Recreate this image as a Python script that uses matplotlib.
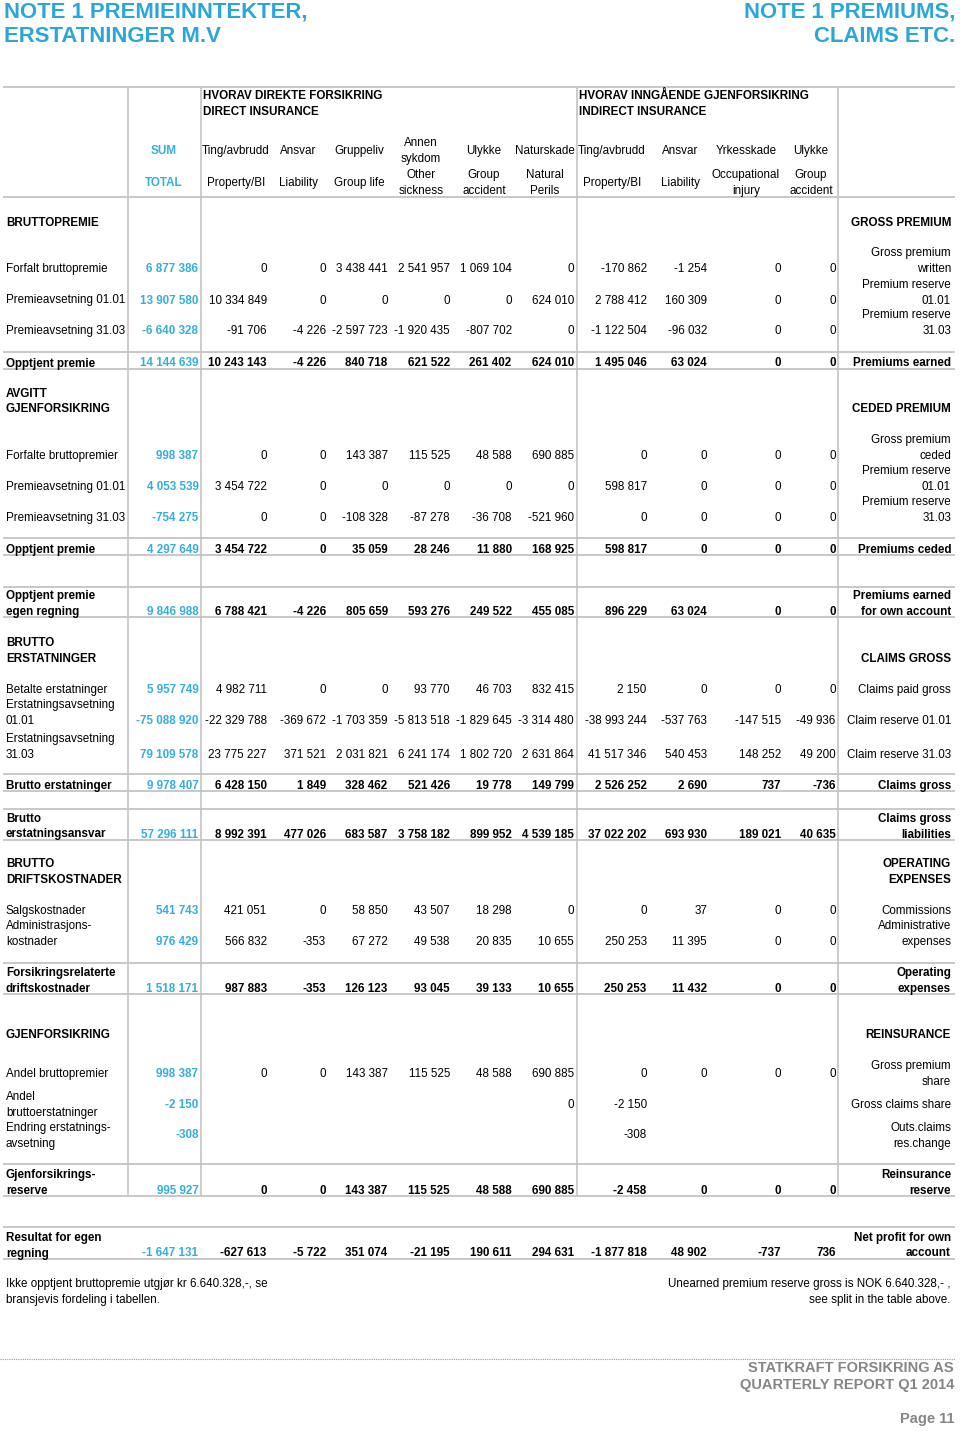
import matplotlib
matplotlib.use("Agg")
import matplotlib.pyplot as plt

plt.rcParams["font.family"] = ["Liberation Sans", "DejaVu Sans"]

# ---- data -------------------------------------------------------------
DIRECT_NO = ["Ting/avbrudd", "Ansvar", "Gruppeliv", "Annen\nsykdom", "Ulykke", "Naturskade"]
DIRECT_EN = ["Property/BI", "Liability", "Group life", "Other\nsickness", "Group\naccident", "Natural\nPerils"]
INDIRECT_NO = ["Ting/avbrudd", "Ansvar", "Yrkesskade", "Ulykke"]
INDIRECT_EN = ["Property/BI", "Liability", "Occupational\ninjury", "Group\naccident"]

SECTIONS_NO = ["BRUTTOPREMIE", "AVGITT\nGJENFORSIKRING", "BRUTTO\nERSTATNINGER",
               "BRUTTO\nDRIFTSKOSTNADER", "GJENFORSIKRING"]
SECTIONS_EN = ["GROSS PREMIUM", "CEDED PREMIUM", "CLAIMS GROSS",
               "OPERATING\nEXPENSES", "REINSURANCE"]

ROW_NO = [
    "Forfalt bruttopremie", "Premieavsetning 01.01", "Premieavsetning 31.03", "Opptjent premie",
    "Forfalte bruttopremier", "Premieavsetning 01.01", "Premieavsetning 31.03", "Opptjent premie",
    "Opptjent premie\negen regning",
    "Betalte erstatninger", "Erstatningsavsetning\n01.01", "Erstatningsavsetning\n31.03",
    "Brutto erstatninger", "Brutto\nerstatningsansvar",
    "Salgskostnader", "Administrasjons-\nkostnader", "Forsikringsrelaterte\ndriftskostnader",
    "Andel bruttopremier", "Andel\nbruttoerstatninger", "Endring erstatnings-\navsetning",
    "Gjenforsikrings-\nreserve", "Resultat for egen\nregning",
]
ROW_EN = [
    "Gross premium\nwritten", "Premium reserve\n01.01", "Premium reserve\n31.03", "Premiums earned",
    "Gross premium\nceded", "Premium reserve\n01.01", "Premium reserve\n31.03", "Premiums ceded",
    "Premiums earned\nfor own account",
    "Claims paid gross", "Claim reserve 01.01", "Claim reserve 31.03",
    "Claims gross", "Claims gross\nliabilities",
    "Commissions", "Administrative\nexpenses", "Operating\nexpenses",
    "Gross premium\nshare", "Gross claims share", "Outs.claims\nres.change",
    "Reinsurance\nreserve", "Net profit for own\naccount",
]
ROW_SUM = [6877386, 13907580, -6640328, 14144639,
           998387, 4053539, -754275, 4297649,
           9846988,
           5957749, -75088920, 79109578, 9978407, 57296111,
           541743, 976429, 1518171,
           998387, -2150, -308, 995927, -1647131]
N = None
ROW_VALUES = [
    [0, 0, 3438441, 2541957, 1069104, 0, -170862, -1254, 0, 0],
    [10334849, 0, 0, 0, 0, 624010, 2788412, 160309, 0, 0],
    [-91706, -4226, -2597723, -1920435, -807702, 0, -1122504, -96032, 0, 0],
    [10243143, -4226, 840718, 621522, 261402, 624010, 1495046, 63024, 0, 0],
    [0, 0, 143387, 115525, 48588, 690885, 0, 0, 0, 0],
    [3454722, 0, 0, 0, 0, 0, 598817, 0, 0, 0],
    [0, 0, -108328, -87278, -36708, -521960, 0, 0, 0, 0],
    [3454722, 0, 35059, 28246, 11880, 168925, 598817, 0, 0, 0],
    [6788421, -4226, 805659, 593276, 249522, 455085, 896229, 63024, 0, 0],
    [4982711, 0, 0, 93770, 46703, 832415, 2150, 0, 0, 0],
    [-22329788, -369672, -1703359, -5813518, -1829645, -3314480, -38993244, -537763, -147515, -49936],
    [23775227, 371521, 2031821, 6241174, 1802720, 2631864, 41517346, 540453, 148252, 49200],
    [6428150, 1849, 328462, 521426, 19778, 149799, 2526252, 2690, 737, -736],
    [8992391, 477026, 683587, 3758182, 899952, 4539185, 37022202, 693930, 189021, 40635],
    [421051, 0, 58850, 43507, 18298, 0, 0, 37, 0, 0],
    [566832, -353, 67272, 49538, 20835, 10655, 250253, 11395, 0, 0],
    [987883, -353, 126123, 93045, 39133, 10655, 250253, 11432, 0, 0],
    [0, 0, 143387, 115525, 48588, 690885, 0, 0, 0, 0],
    [N, N, N, N, N, 0, -2150, N, N, N],
    [N, N, N, N, N, N, -308, N, N, N],
    [0, 0, 143387, 115525, 48588, 690885, -2458, 0, 0, 0],
    [-627613, -5722, 351074, -21195, 190611, 294631, -1877818, 48902, -737, 736],
]
TOTAL_ROWS = [3, 7, 8, 12, 13, 16, 20, 21]

# ---- layout -----------------------------------------------------------
CYAN = "#2aa6d8"
SUMC = "#33afd9"
GRID = "#c4c4c4"
GREY = "#858585"
FS = 8.4
LH = 15.6
DY = 1.8  # va="center" sits a bit high compared with the scan

ROW_Y = [267, 298.7, 329.3, 361.7, 454.3, 485.3, 516, 548.3, 610.3, 688, 719, 752.7,
         784.3, 832.7, 909.3, 940.3, 987, 1072, 1102.7, 1133.7, 1188.7, 1251.7]
LEFT_Y = {18: 1111, 19: 1142}
RIGHT_Y = {17: 1080, 19: 1142}
SECTION_Y = [220.7, 407.7, 656.7, 878.3, 1033.7]
COL_X = [266.7, 326, 387.7, 450, 511.7, 574, 646.7, 707, 781, 835.7]
HEAD_X = [236, 298, 359, 421, 484, 545, 612, 680, 746, 811]
SUM_X = 198.5
LEFT_X = 6
RIGHT_X = 951
RULES = [87, 197, 351.5, 368.5, 538, 555, 586.5, 617, 774, 791, 809, 840,
         963, 994, 1164, 1196, 1227, 1259]
VLINES = [128, 201, 577, 838]


def fmt(v):
    return f"{v:,}".replace(",", " ")


def put(ax, x, y, s, **kw):
    ax.text(x, y + DY, s, va="center", **kw)


def stack(ax, x, y_last, text, ha="left", **kw):
    lines = text.split("\n")
    n = len(lines)
    for i, line in enumerate(lines):
        put(ax, x, y_last - (n - 1 - i) * LH, line, ha=ha, **kw)


fig = plt.figure(figsize=(9.6, 14.31), dpi=100)
ax = fig.add_axes([0, 0, 1, 1])
ax.set_xlim(0, 960)
ax.set_ylim(1431, 0)
ax.axis("off")

# titles
tkw = dict(fontsize=15.9, fontweight="bold", color=CYAN, va="center")
ax.text(4, 12, "NOTE 1 PREMIEINNTEKTER,", ha="left", **tkw)
ax.text(4, 36, "ERSTATNINGER M.V", ha="left", **tkw)
ax.text(955, 12, "NOTE 1 PREMIUMS,", ha="right", **tkw)
ax.text(955, 36, "CLAIMS ETC.", ha="right", **tkw)

# grid
for y in RULES:
    ax.plot([3, 955], [y, y], color=GRID, lw=1.3, solid_capstyle="butt")
for x in VLINES:
    ax.plot([x, x], [87, 1196], color=GRID, lw=1.2, solid_capstyle="butt")

# column headers
bold = dict(fontsize=FS, fontweight="bold")
stack(ax, 203, 110, "HVORAV DIREKTE FORSIKRING\nDIRECT INSURANCE", **bold)
stack(ax, 579, 110, "HVORAV INNGÅENDE GJENFORSIKRING\nINDIRECT INSURANCE", **bold)
put(ax, 164, 149, "SUM", ha="center", color=SUMC, **bold)
put(ax, 164, 181, "TOTAL", ha="center", color=SUMC, **bold)
for x, no, en in zip(HEAD_X, DIRECT_NO + INDIRECT_NO, DIRECT_EN + INDIRECT_EN):
    n_no = len(no.split("\n"))
    n_en = len(en.split("\n"))
    stack(ax, x, 149.5 + (n_no - 1) * LH / 2, no, ha="center", fontsize=FS)
    stack(ax, x, 181 + (n_en - 1) * LH / 2, en, ha="center", fontsize=FS)

# sections
for y, no, en in zip(SECTION_Y, SECTIONS_NO, SECTIONS_EN):
    stack(ax, LEFT_X, y, no, **bold)
    stack(ax, RIGHT_X, y, en, ha="right", **bold)

# rows
for i, (no, en, s, vals) in enumerate(zip(ROW_NO, ROW_EN, ROW_SUM, ROW_VALUES)):
    y = ROW_Y[i]
    w = "bold" if i in TOTAL_ROWS else "normal"
    stack(ax, LEFT_X, LEFT_Y.get(i, y), no, fontsize=FS, fontweight=w)
    stack(ax, RIGHT_X, RIGHT_Y.get(i, y), en, ha="right", fontsize=FS, fontweight=w)
    put(ax, SUM_X, y, fmt(s), ha="right", fontsize=FS, fontweight="bold", color=SUMC)
    for x, v in zip(COL_X, vals):
        if v is None:
            continue
        put(ax, x, y, fmt(v), ha="right", fontsize=FS, fontweight=w)

# footnotes
nkw = dict(fontsize=8.4)
put(ax, 6, 1282, "Ikke opptjent bruttopremie utgjør kr 6.640.328,-, se", ha="left", **nkw)
put(ax, 6, 1298, "bransjevis fordeling i tabellen.", ha="left", **nkw)
put(ax, 950, 1282, "Unearned premium reserve gross is NOK 6.640.328,- ,", ha="right", **nkw)
put(ax, 950, 1298, "see split in the table above.", ha="right", **nkw)

ax.plot([0, 955], [1359, 1359], color="#9a9a9a", lw=0.8, ls=(0, (1, 1)))
fkw = dict(fontsize=10.5, fontweight="bold", color=GREY, ha="right", va="center")
ax.text(954, 1368, "STATKRAFT FORSIKRING AS", **fkw)
ax.text(954, 1385, "QUARTERLY REPORT Q1 2014", **fkw)
ax.text(954, 1419, "Page 11", **fkw)

fig.savefig("out.png", dpi=100)
